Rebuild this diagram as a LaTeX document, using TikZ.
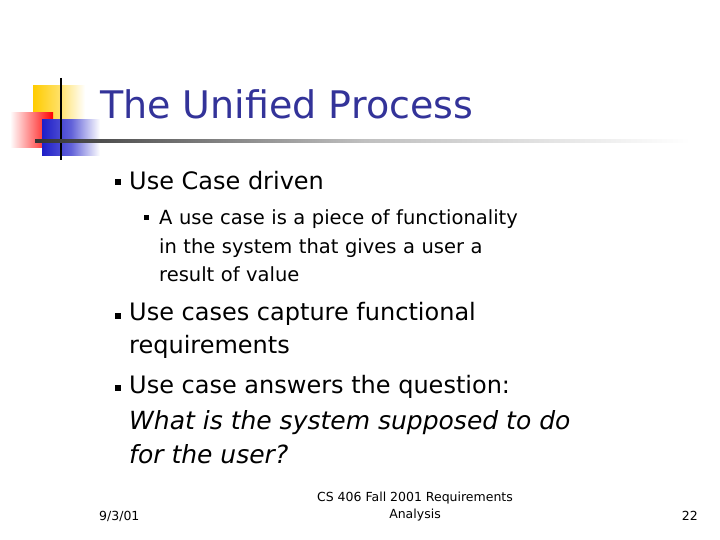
\documentclass[tikz,border=0pt]{standalone}
\usepackage{fontspec}
\setmainfont{DejaVu Sans}
\definecolor{ttl}{RGB}{51,51,153}
\definecolor{ylw}{RGB}{255,204,0}
\definecolor{blu}{RGB}{30,30,200}
\begin{document}
\begin{tikzpicture}[x=1pt,y=-1pt,
  bul/.style={fill=black,minimum size=6pt,inner sep=0pt},
  txt/.style={anchor=west,inner sep=0pt,align=left}]
\useasboundingbox (0,0) rectangle (720,540);
\fill[white] (0,0) rectangle (720,540);
% logo
\shade[left color=ylw,right color=white,middle color=ylw!60] (33,86) rectangle (85,121);
\shade[left color=white,right color=red] (10,113) rectangle (53,148);
\shade[left color=blu,right color=white,middle color=blu!70] (42,120) rectangle (100,156);
\draw[line width=2.5pt] (61,78) -- (61,160);
\shade[left color=black!80,right color=white,middle color=black!25] (35,140) rectangle (690,142.5);
\node[txt,text=ttl,font=\fontsize{38}{42}\selectfont] (title) at (100,104) {The Unified Process};
% bullets
\node[bul] (b1) at (118,182) {};
\node[txt,font=\fontsize{24}{28}\selectfont] (t1) at (129,181) {Use Case driven};
\node[bul,minimum size=5pt] (b2) at (146,218) {};
\node[txt,font=\fontsize{19.5}{28.5}\selectfont,text width=450pt] (t2) at (159,246) {A use case is a piece of functionality\\in the system that gives a user a\\result of value};
\node[bul] (b3) at (118,316) {};
\node[txt,font=\fontsize{24}{33}\selectfont] (t3) at (129,330) {Use cases capture functional\\requirements};
\node[bul] (b4) at (118,388) {};
\node[txt,font=\fontsize{24}{33}\selectfont] (t4) at (129,387) {Use case answers the question:};
\node[txt,font=\fontsize{25}{34}\itshape\selectfont] (t5) at (129,437) {What is the system supposed to do\\for the user?};
% footer
\node[txt,font=\fontsize{12.5}{17}\selectfont] (f1) at (99,516) {9/3/01};
\node[align=center,inner sep=0pt,font=\fontsize{12.5}{17}\selectfont] (f2) at (415,507) {CS 406 Fall 2001 Requirements\\Analysis};
\node[anchor=east,inner sep=0pt,font=\fontsize{12.5}{17}\selectfont] (f3) at (698,516) {22};
\end{tikzpicture}
\end{document}
